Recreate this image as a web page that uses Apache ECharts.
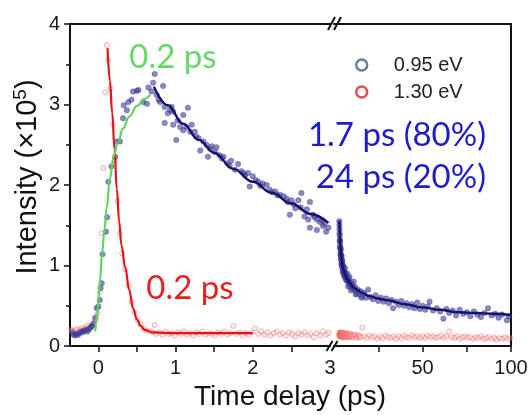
<!DOCTYPE html>
<html><head><meta charset="utf-8">
<script src="https://cdn.jsdelivr.net/npm/echarts@6/dist/echarts.min.js"></script>
<style>html,body{margin:0;padding:0;background:#fff}#c{width:531px;height:415px}</style>
</head><body><div id="c"></div>
<script>
// ---- data (time in ps, intensity in 1e5) ----
const blueLeftPoints = [
[-0.34,0.17],[-0.32,0.14],[-0.30,0.13],[-0.28,0.15],[-0.26,0.14],[-0.24,0.16],[-0.22,0.18],[-0.20,0.17],
[-0.18,0.19],[-0.16,0.20],[-0.14,0.18],[-0.12,0.21],[-0.10,0.23],[-0.08,0.25],[-0.06,0.28],[-0.04,0.35],
[-0.02,0.47],[0.00,0.49],[0.02,0.57],[0.03,0.72],[0.044,0.78],[0.055,1.14],[0.10,1.42],[0.115,1.6],
[0.13,2.04],[0.17,2.23],[0.22,2.35],[0.24,2.54],[0.28,2.54],[0.32,2.83],[0.33,2.99],[0.37,2.93],
[0.39,3.03],[0.43,3.06],[0.45,3.16],[0.50,3.17],[0.52,3.18],[0.58,3.03],[0.63,3.01],[0.65,3.21],
[0.69,3.16],[0.71,3.27],[0.73,3.38],[0.755,3.12],[0.78,3.06],[0.80,3.03],[0.84,3.23],[0.86,2.97],
[0.86,2.77],[0.90,2.89],[0.93,2.93],[0.95,2.97],[0.97,2.91],[0.97,2.75],[1.01,2.56],[1.03,2.80],
[1.06,2.72],[1.10,2.87],[1.10,2.68],[1.14,2.72],[1.16,2.96],[1.19,2.66],[1.21,2.75],[1.25,2.66],
[1.27,2.60],[1.30,2.58],[1.32,2.43],[1.36,2.54],[1.40,2.50],[1.42,2.35],[1.45,2.45],[1.47,2.48],
[1.51,2.41],[1.53,2.47],[1.57,2.37],[1.60,2.33],[1.62,2.35],[1.67,2.27],[1.70,2.24],[1.72,2.30],
[1.77,2.19],[1.81,2.26],[1.85,2.17],[1.88,2.15],[1.90,2.12],[1.94,2.15],[1.96,1.98],[2.00,2.11],
[2.04,2.06],[2.07,2.04],[2.10,1.99],[2.13,2.02],[2.18,2.00],[2.22,1.94],[2.25,1.91],[2.29,1.92],
[2.32,1.87],[2.35,1.88],[2.40,1.86],[2.44,1.83],[2.45,1.79],[2.48,1.63],[2.50,1.81],[2.53,1.76],
[2.55,1.71],[2.59,1.81],[2.62,1.72],[2.63,1.90],[2.67,1.61],[2.70,1.70],[2.72,1.57],[2.74,1.79],
[2.74,1.47],[2.78,1.63],[2.80,1.60],[2.83,1.57],[2.83,1.44],[2.87,1.54],[2.90,1.56],[2.91,1.49],
[2.93,1.52],[2.95,1.42],[2.98,1.47]
];
const redLeftPoints = [
[-0.35,0.20],[-0.33,0.19],[-0.31,0.17],[-0.29,0.20],[-0.27,0.18],[-0.25,0.21],[-0.23,0.19],[-0.21,0.22],
[-0.19,0.20],[-0.17,0.23],[-0.15,0.22],[-0.13,0.25],[-0.11,0.22],[-0.09,0.25],[-0.07,0.27],[-0.05,0.30],
[-0.03,0.33],[-0.01,0.40],[0.02,0.67],[0.045,1.40],[0.065,2.21],[0.09,3.15],[0.11,3.74],[0.13,3.55],
[0.16,3.20],[0.19,2.75],[0.22,2.30],[0.25,1.80],[0.28,1.40],[0.31,1.15],[0.35,0.95],[0.39,0.75],
[0.43,0.55],[0.47,0.42],[0.51,0.33],[0.55,0.27],[0.59,0.22],[0.63,0.19],[0.67,0.18],[0.71,0.17],
[0.73,0.26],[0.75,0.15],[0.79,0.17],[0.83,0.14],[0.87,0.18],[0.91,0.15],[0.95,0.16],[0.99,0.13],
[1.03,0.17],[1.07,0.15],[1.11,0.18],[1.15,0.14],[1.19,0.16],[1.23,0.13],[1.27,0.17],[1.31,0.15],
[1.35,0.18],[1.39,0.14],[1.43,0.16],[1.47,0.15],[1.51,0.13],[1.55,0.17],[1.59,0.15],[1.63,0.18],
[1.67,0.14],[1.71,0.16],[1.75,0.25],[1.79,0.15],[1.83,0.17],[1.87,0.13],[1.91,0.16],[1.95,0.14],
[1.99,0.17],[2.03,0.22],[2.07,0.15],[2.11,0.18],[2.15,0.14],[2.19,0.17],[2.23,0.13],[2.27,0.16],
[2.31,0.18],[2.35,0.14],[2.39,0.16],[2.43,0.13],[2.47,0.17],[2.51,0.15],[2.55,0.12],[2.59,0.16],
[2.63,0.14],[2.67,0.17],[2.71,0.13],[2.75,0.15],[2.79,0.11],[2.83,0.16],[2.87,0.13],[2.91,0.18],
[2.95,0.14],[2.98,0.16]
];
const greenRiseFit = [
[-0.04,0.18],[-0.02,0.33],[0.00,0.55],[0.02,0.80],[0.05,1.15],[0.08,1.45],[0.11,1.72],[0.15,2.08],
[0.20,2.36],[0.25,2.52],[0.32,2.70],[0.40,2.85],[0.50,2.98],[0.60,3.07],[0.67,3.12]
];
const redDecayFit = [
[0.12,3.70],[0.15,3.30],[0.18,2.90],[0.21,2.45],[0.24,1.95],[0.27,1.55],[0.30,1.25],[0.35,0.97],
[0.40,0.70],[0.45,0.47],[0.50,0.33],[0.55,0.25],[0.60,0.20],[0.70,0.17],[0.90,0.16],[1.50,0.16],[2.00,0.16]
];
const blueDecayFitLeft = [
[0.72,3.22],[0.90,2.99],[1.10,2.76],[1.30,2.56],[1.50,2.40],[1.75,2.20],[2.00,2.04],[2.25,1.90],
[2.50,1.77],[2.75,1.64],[2.98,1.53]
];
const blueRightPoints = [
[3.0,1.55],[3.05,1.50],[3.1,1.45],[3.15,1.38],[3.2,1.40],[3.25,1.30],[3.3,1.33],[3.4,1.30],[3.45,1.22],
[3.5,1.25],[3.6,1.22],[3.65,1.14],[3.7,1.18],[3.8,1.20],[3.85,1.08],[3.9,1.13],[4.0,1.12],[4.1,1.02],
[4.2,1.08],[4.3,1.12],[4.4,1.05],[4.5,0.98],[4.6,1.02],[4.7,1.06],[4.8,1.00],[4.9,0.93],[5.0,0.97],
[5.2,1.00],[5.3,0.90],[5.4,0.93],[5.6,0.95],[5.7,0.86],[5.8,0.90],[6.0,0.92],[6.2,0.97],[6.3,0.88],
[6.6,0.86],[6.8,0.82],[6.9,0.89],[7.2,0.82],[7.4,0.90],[7.5,0.85],[7.8,0.80],[8.0,0.74],[8.1,0.83],
[8.5,0.77],[8.7,0.86],[8.9,0.80],[9.3,0.74],[9.6,0.69],[9.8,0.78],[10.3,0.72],[10.8,0.75],[11.1,0.80],
[11.4,0.70],[12.0,0.73],[12.3,0.64],[12.7,0.66],[13.4,0.70],[14.2,0.64],[15.0,0.68],[15.5,0.60],
[16.0,0.62],[17.0,0.66],[18.0,0.60],[19.3,0.70],[20.5,0.61],[22,0.58],[23.5,0.63],[25,0.56],[26.5,0.60],
[28,0.55],[29.5,0.59],[31,0.53],[32.5,0.57],[33.4,0.47],[35,0.55],[36.5,0.51],[38,0.56],[39.5,0.50],
[41,0.53],[42.5,0.48],[44,0.52],[45.5,0.47],[47,0.54],[48.5,0.46],[50,0.50],[51.5,0.45],[53,0.49],
[54,0.55],[56,0.44],[58,0.47],[60,0.43],[61.8,0.34],[63.5,0.46],[65,0.41],[67,0.44],[69,0.38],[71,0.45],
[73,0.40],[75,0.42],[77,0.37],[79,0.43],[81,0.39],[83,0.36],[85,0.41],[87,0.47],[89,0.38],[91,0.40],
[93,0.35],[95,0.39],[97.7,0.32],[99,0.37]
];
const redRightPoints = [
[3.0,0.14],[3.05,0.16],[3.1,0.12],[3.15,0.15],[3.2,0.16],[3.25,0.13],[3.3,0.13],[3.35,0.16],[3.4,0.12],
[3.45,0.15],[3.5,0.17],[3.55,0.13],[3.6,0.15],[3.65,0.12],[3.7,0.12],[3.75,0.16],[3.8,0.13],[3.85,0.15],
[3.9,0.16],[3.95,0.12],[4.0,0.17],[4.05,0.14],[4.1,0.13],[4.15,0.16],[4.2,0.12],[4.25,0.14],[4.3,0.15],
[4.35,0.12],[4.4,0.15],[4.45,0.16],[4.5,0.12],[4.55,0.14],[4.6,0.14],[4.65,0.11],[4.7,0.16],[4.75,0.13],
[4.8,0.11],[4.85,0.15],[4.9,0.14],[4.95,0.12],[5.0,0.16],[5.1,0.12],[5.2,0.13],[5.3,0.15],[5.4,0.15],
[5.5,0.11],[5.6,0.12],[5.7,0.16],[5.8,0.14],[5.9,0.12],[6.0,0.16],[6.15,0.13],[6.3,0.12],[6.45,0.15],
[6.6,0.14],[6.75,0.11],[6.9,0.13],[7.05,0.16],[7.2,0.15],[7.35,0.12],[7.5,0.11],[7.65,0.14],[7.8,0.14],
[8.0,0.12],[8.2,0.13],[8.4,0.15],[8.6,0.12],[8.8,0.11],[9.0,0.15],[9.25,0.13],[9.5,0.11],[9.75,0.14],
[10,0.13],[10.5,0.11],[11,0.12],[11.5,0.14],[12,0.14],[12.5,0.11],[13,0.10],[13.5,0.13],[14,0.13],
[14.5,0.11],[15,0.11],[16,0.23],[17,0.12],[18.5,0.10],[20,0.13],[21.5,0.11],
[23,0.12],[24.5,0.09],[26,0.12],[27.5,0.10],[29,0.13],[30.5,0.11],[32,0.10],[33.5,0.12],[35,0.09],
[36.5,0.12],[38,0.10],[39.5,0.13],[41,0.11],[42.5,0.10],[44,0.13],[45.5,0.11],[47,0.12],[48.5,0.10],
[50,0.12],[51.5,0.10],[53,0.13],[54.5,0.11],[56,0.12],[57.5,0.10],[59,0.11],[60.5,0.13],[62,0.10],
[63.5,0.12],[65,0.18],[66.5,0.11],[68,0.10],[69.5,0.12],[71,0.09],[72.5,0.11],[74,0.12],[75.5,0.10],
[77,0.11],[78.5,0.09],[80,0.11],[81.5,0.10],[83,0.12],[84.5,0.09],[86,0.10],[87.5,0.11],[89,0.09],
[90.5,0.10],[92,0.08],[93.5,0.10],[95,0.09],[96.5,0.11],[98,0.09],[99.5,0.10]
];
const blueDecayFitRight = [
[3,1.56],[3.3,1.38],[3.7,1.22],[4.2,1.10],[5,0.98],[6,0.90],[7.5,0.83],[9,0.78],[11,0.73],[13,0.70],
[16,0.66],[20,0.62],[25,0.59],[30,0.57],[40,0.52],[50,0.48],[60,0.45],[70,0.42],[80,0.41],[90,0.40],[100,0.385]
];
const leftTickValues = [0,0.5,1,1.5,2,2.5];
const leftLabelValues = [0,1,2,3];
const rightTickValues = [25,50,75,100];
const rightLabelValues = [50,100];
const legendNames = ['0.95 eV','1.30 eV'];

const FONT = 'Liberation Sans, Arial, sans-serif';
const AX = '#111';
const chart = echarts.init(document.getElementById('c'), null, {renderer:'canvas'});

const lineAx = {show:true, onZero:false, lineStyle:{color:AX, width:2}};
const noTick = {show:false};
const noLabel = {show:false};
const labelStyle = {fontFamily:FONT, fontSize:20, color:'#1a1a1a'};

const blueDot = {color:'rgba(65,65,160,0.78)', borderColor:'rgba(35,35,115,0.6)', borderWidth:0.6};
const redDot = {color:'rgba(255,205,205,0.35)', borderColor:'rgba(240,95,95,0.6)', borderWidth:1};

chart.setOption({
  animation:false,
  backgroundColor:'#fff',
  grid:[
    {left:70, top:24, width:260, height:322},
    {left:334, top:24, width:177, height:322}
  ],
  xAxis:[
    {gridIndex:0, type:'value', position:'bottom', min:-0.366, max:3,
     axisLine:lineAx, splitLine:{show:false},
     axisTick:{show:true, inside:false, length:6, lineStyle:{color:AX, width:1.5}, customValues:leftTickValues},
     axisLabel:Object.assign({margin:12, customValues:leftLabelValues}, labelStyle)},
    {gridIndex:0, type:'value', position:'top', min:-0.366, max:3,
     axisLine:lineAx, axisTick:noTick, axisLabel:noLabel, splitLine:{show:false}},
    {gridIndex:1, type:'value', position:'bottom', min:0, max:100,
     axisLine:lineAx, splitLine:{show:false},
     axisTick:{show:true, inside:false, length:6, lineStyle:{color:AX, width:1.5}, customValues:rightTickValues},
     axisLabel:Object.assign({margin:12, customValues:rightLabelValues}, labelStyle)},
    {gridIndex:1, type:'value', position:'top', min:0, max:100,
     axisLine:lineAx, axisTick:noTick, axisLabel:noLabel, splitLine:{show:false}}
  ],
  yAxis:[
    {gridIndex:0, type:'value', position:'left', min:0, max:4, interval:1,
     axisLine:lineAx, splitLine:{show:false},
     axisTick:{show:true, inside:false, length:6, lineStyle:{color:AX, width:1.5}},
     minorTick:{show:true, splitNumber:2, length:4, lineStyle:{color:AX, width:1.5}},
     axisLabel:Object.assign({margin:10}, labelStyle)},
    {gridIndex:1, type:'value', position:'left', min:0, max:4, show:false},
    {gridIndex:1, type:'value', position:'right', min:0, max:4,
     axisLine:lineAx, axisTick:noTick, axisLabel:noLabel, splitLine:{show:false}}
  ],
  legend:{
    orient:'vertical', left:350, top:50, itemWidth:54, itemHeight:11, itemGap:7,
    selectedMode:false,
    textStyle:{fontFamily:FONT, fontSize:20, color:'#222'},
    data:[
      {name:legendNames[0], icon:'circle', itemStyle:{color:'#fff', borderColor:'#3d5a8e', borderWidth:2.4}},
      {name:legendNames[1], icon:'circle', itemStyle:{color:'#fff', borderColor:'#e02020', borderWidth:2.4}}
    ]
  },
  series:[
    {name:legendNames[1], type:'scatter', xAxisIndex:0, yAxisIndex:0, data:redLeftPoints,
     symbol:'circle', symbolSize:5, itemStyle:redDot, z:2},
    {name:legendNames[0], type:'scatter', xAxisIndex:0, yAxisIndex:0, data:blueLeftPoints,
     symbol:'circle', symbolSize:5.5, itemStyle:blueDot, z:3},
    {name:legendNames[1], type:'scatter', xAxisIndex:2, yAxisIndex:1, data:redRightPoints,
     symbol:'circle', symbolSize:5, itemStyle:redDot, z:2},
    {name:legendNames[0], type:'scatter', xAxisIndex:2, yAxisIndex:1, data:blueRightPoints,
     symbol:'circle', symbolSize:5.5, itemStyle:blueDot, z:3},
    {name:'redfit', type:'line', xAxisIndex:0, yAxisIndex:0, data:redDecayFit, smooth:0.4, smoothMonotone:'x',
     showSymbol:false, lineStyle:{color:'#e01515', width:2.2}, z:5},
    {name:'greenfit', type:'line', xAxisIndex:0, yAxisIndex:0, data:greenRiseFit, smooth:0.4, smoothMonotone:'x',
     showSymbol:false, lineStyle:{color:'#5ed45e', width:2.2}, z:5},
    {name:'bluefitL', type:'line', xAxisIndex:0, yAxisIndex:0, data:blueDecayFitLeft, smooth:0.4, smoothMonotone:'x',
     showSymbol:false, lineStyle:{color:'#12126e', width:2.4}, z:5},
    {name:'bluefitR', type:'line', xAxisIndex:2, yAxisIndex:1, data:blueDecayFitRight, smooth:0.4, smoothMonotone:'x',
     showSymbol:false, lineStyle:{color:'#12126e', width:2.4}, z:5}
  ],
  graphic:[
    // axis break marks
    {type:'line', z:100, shape:{x1:326.5,y1:351,x2:332.5,y2:341}, style:{stroke:AX, lineWidth:2}},
    {type:'line', z:100, shape:{x1:331.5,y1:351,x2:337.5,y2:341}, style:{stroke:AX, lineWidth:2}},
    {type:'line', z:100, shape:{x1:328,y1:30,x2:335,y2:17}, style:{stroke:AX, lineWidth:2}},
    {type:'line', z:100, shape:{x1:334,y1:30,x2:341,y2:17}, style:{stroke:AX, lineWidth:2}},
    // annotations
    {type:'text', z:50, x:173, y:57, style:{text:'0.2 ps', fill:'#66d866', font:'33px Lato, sans-serif', align:'center', verticalAlign:'middle'}},
    {type:'text', z:50, x:190, y:288, style:{text:'0.2 ps', fill:'#e82020', font:'33px Lato, sans-serif', align:'center', verticalAlign:'middle'}},
    {type:'text', z:50, x:486, y:135, style:{text:'1.7 ps (80%)', fill:'#1c1cc8', font:'33px Lato, sans-serif', align:'right', verticalAlign:'middle'}},
    {type:'text', z:50, x:486, y:177, style:{text:'24 ps (20%)', fill:'#1c1cc8', font:'33px Lato, sans-serif', align:'right', verticalAlign:'middle'}},
    // axis titles
    {type:'text', z:50, x:290, y:397, style:{text:'Time delay (ps)', fill:'#111', font:'28px Liberation Sans, Arial, sans-serif', align:'center', verticalAlign:'middle'}},
    {type:'text', z:50, x:28, y:177, rotation:Math.PI/2,
     style:{text:'{a|Intensity (×10}{s|5}{a|)}', align:'center', verticalAlign:'middle',
            rich:{a:{fontFamily:FONT, fontSize:29, lineHeight:34, fill:'#111', color:'#111'},
                  s:{fontFamily:FONT, fontSize:19, lineHeight:34, verticalAlign:'top', fill:'#111', color:'#111'}}}}
  ]
});
</script>
</body></html>
